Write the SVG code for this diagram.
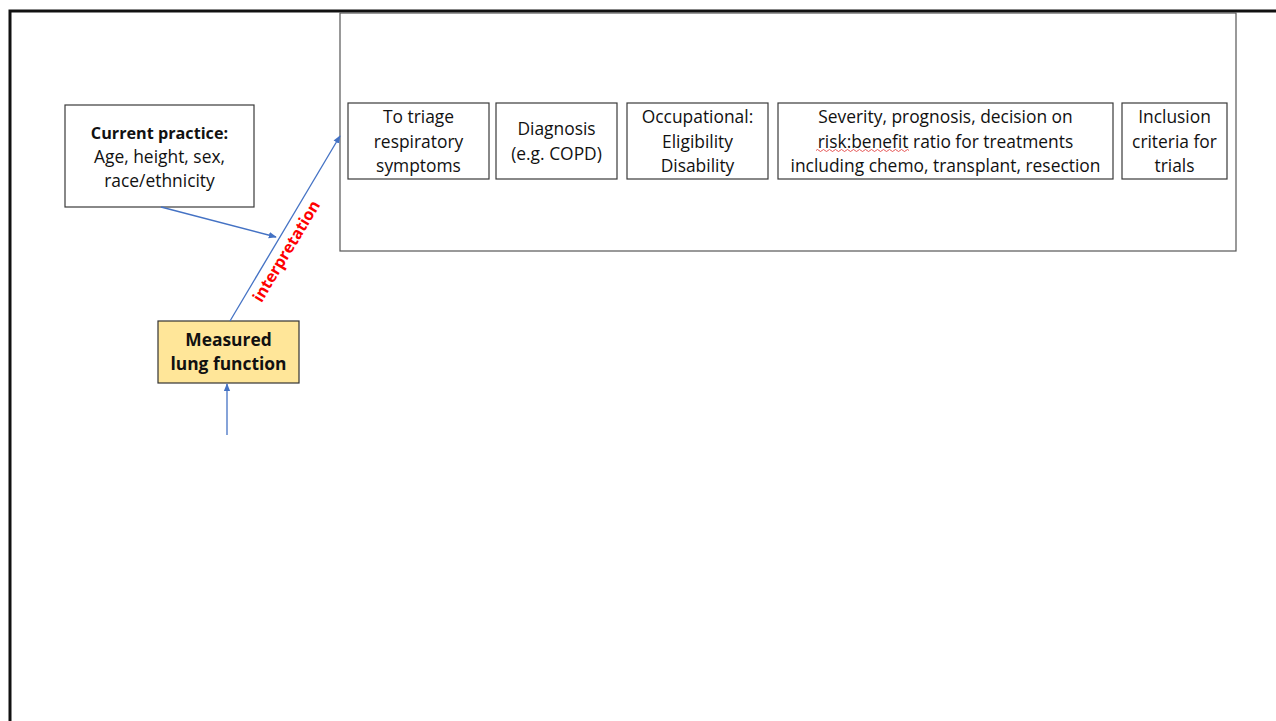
<svg xmlns="http://www.w3.org/2000/svg" width="1276" height="721" viewBox="0 0 1276 721">
<style>
.box{fill:#fff;stroke:#3a3a3a;stroke-width:1.2}
.t{font-family:"Open Sans","Liberation Sans",sans-serif;font-size:17.4px;fill:#111;text-anchor:middle}
.b{font-weight:bold}
.con{stroke:#4472C4;stroke-width:1.3;fill:none}
</style>
<defs>
<marker id="ah" viewBox="0 0 10 10" refX="9" refY="5" markerWidth="8" markerHeight="8" orient="auto" markerUnits="userSpaceOnUse">
<path d="M0,1 L10,5 L0,9 z" fill="#4472C4"/>
</marker>
</defs>
<rect width="1276" height="721" fill="#fff"/>
<path d="M10,721 V11 H1276" fill="none" stroke="#111" stroke-width="3"/>
<g id="outcomes">
<rect x="340" y="13" width="896" height="238" fill="#fff" stroke="#555" stroke-width="1.2"/>
</g>
<g id="current-practice">
<rect class="box" x="65" y="105" width="189" height="102"/>
<text class="t" x="159.5" y="139"><tspan class="b" font-size="16.2">Current practice:</tspan><tspan x="159.5" dy="24">Age, height, sex,</tspan><tspan x="159.5" dy="24">race/ethnicity</tspan></text>
</g>
<g id="measured">
<rect x="158" y="321" width="141" height="62" fill="#FFE699" stroke="#333" stroke-width="1.2"/>
<text class="t b" x="228.5" y="346" font-size="17.6">Measured<tspan x="228.5" dy="24">lung function</tspan></text>
</g>
<g id="triage">
<rect class="box" x="348" y="103" width="141" height="76"/>
<text class="t" x="418.5" y="123">To triage<tspan x="418.5" dy="24.5">respiratory</tspan><tspan x="418.5" dy="24.5">symptoms</tspan></text>
</g>
<g id="diagnosis">
<rect class="box" x="496" y="103" width="121" height="76"/>
<text class="t" x="556.5" y="135">Diagnosis<tspan x="556.5" dy="24.5">(e.g. COPD)</tspan></text>
</g>
<g id="occupational">
<rect class="box" x="627" y="103" width="141" height="76"/>
<text class="t" x="697.5" y="123">Occupational:<tspan x="697.5" dy="24.5">Eligibility</tspan><tspan x="697.5" dy="24.5">Disability</tspan></text>
</g>
<g id="severity">
<rect class="box" x="778" y="103" width="335" height="76"/>
<text class="t" x="945.5" y="123">Severity, prognosis, decision on<tspan x="945.5" dy="24.5">risk:benefit ratio for treatments</tspan><tspan x="945.5" dy="24.5">including chemo, transplant, resection</tspan></text>
<path d="M816,150.5 q1.5,-2 3,0 t3,0 t3,0 t3,0 t3,0 t3,0 t3,0 t3,0 t3,0 t3,0 t3,0 t3,0 t3,0 t3,0 t3,0 t3,0 t3,0 t3,0 t3,0 t3,0 t3,0 t3,0 t3,0 t3,0 t3,0 t3,0 t3,0 t3,0 t3,0 t3,0 t3,0" fill="none" stroke="#e03030" stroke-width="0.8"/>
</g>
<g id="inclusion">
<rect class="box" x="1122" y="103" width="105" height="76"/>
<text class="t" x="1174.5" y="123">Inclusion<tspan x="1174.5" dy="24.5">criteria for</tspan><tspan x="1174.5" dy="24.5">trials</tspan></text>
</g>
<g id="connectors">
<line class="con" x1="161" y1="207" x2="276" y2="237" marker-end="url(#ah)"/>
<line class="con" x1="230" y1="321" x2="340" y2="136" marker-end="url(#ah)"/>
<line class="con" x1="227" y1="435" x2="227" y2="384" marker-end="url(#ah)"/>
<text x="291" y="254" transform="rotate(-59 291 254)" font-family="'Open Sans','Liberation Sans',sans-serif" font-size="16" font-weight="bold" fill="#FF0000" text-anchor="middle">interpretation</text>
</g>
</svg>
